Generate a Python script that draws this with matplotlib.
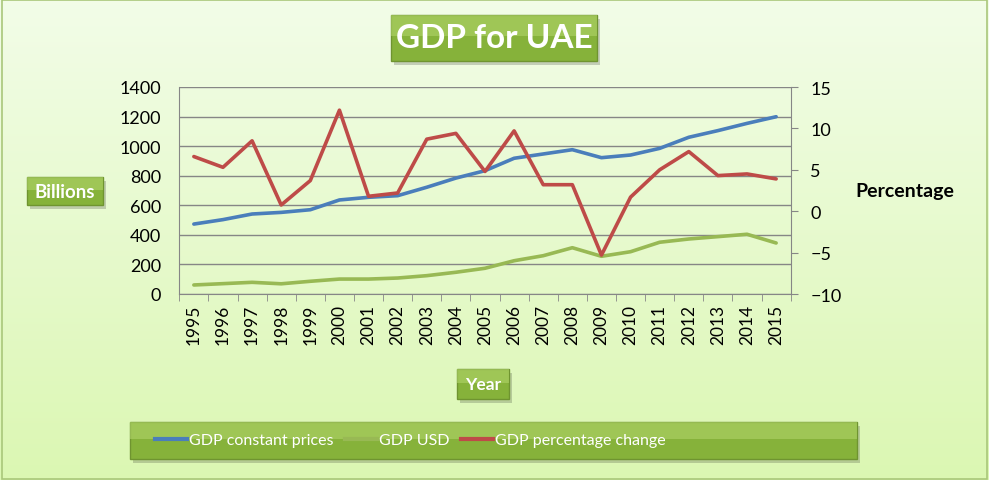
import numpy as np
import matplotlib.pyplot as plt
from matplotlib.patches import FancyBboxPatch, Rectangle
from matplotlib.lines import Line2D

plt.rcParams['font.family'] = ['Lato', 'DejaVu Sans']

years = [str(y) for y in range(1995, 2016)]
gdp_constant = [473, 503, 541, 552, 570, 636, 654, 665, 722, 784, 834,
                918, 947, 976, 922, 940, 985, 1060, 1105, 1154, 1199]
gdp_usd = [61, 70, 79, 69, 86, 101, 101, 108, 124, 147, 174,
           225, 259, 313, 255, 286, 350, 372, 388, 404, 345]
gdp_pct = [6.6, 5.3, 8.5, 0.75, 3.7, 12.2, 1.8, 2.2, 8.7, 9.4, 4.8,
           9.7, 3.2, 3.2, -5.3, 1.7, 5.0, 7.2, 4.3, 4.5, 3.9]

BLUE = '#4a7ebb'
RED = '#be4b48'
GREEN = '#98b954'
GRID = '#868686'

W, H = 989, 481
fig = plt.figure(figsize=(W / 100, H / 100), dpi=100)

# fondo con degradado
bg = fig.add_axes([0, 0, 1, 1], zorder=-10)
grad = np.linspace(0, 1, 256).reshape(-1, 1)
c_top = np.array([0.95, 0.99, 0.91])
c_bot = np.array([0.86, 0.97, 0.70])
img = c_top + (c_bot - c_top) * grad[:, :, None]
bg.imshow(np.repeat(img, 2, axis=1), aspect='auto', extent=[0, 1, 0, 1], origin='upper')
bg.add_patch(Rectangle((0.002, 0.003), 0.996, 0.994, fill=False,
                       edgecolor='#a9c77a', lw=1.2))
bg.set_xlim(0, 1)
bg.set_ylim(0, 1)
bg.axis('off')


def px_box(x0, y0, x1, y1):
    return x0 / W, 1 - y1 / H, (x1 - x0) / W, (y1 - y0) / H


def green_box(x0, y0, x1, y1, text=None, size=12):
    l, b, w, h = px_box(x0, y0, x1, y1)
    shadow = FancyBboxPatch((l + 3 / W, b - 4 / H), w, h, boxstyle='square,pad=0',
                            transform=fig.transFigure, facecolor='#000000',
                            alpha=0.18, edgecolor='none', zorder=1)
    fig.patches.append(shadow)
    box = FancyBboxPatch((l, b), w, h, boxstyle='square,pad=0',
                         transform=fig.transFigure, facecolor='#86b23a',
                         edgecolor='#6f9430', lw=1.0, zorder=2)
    fig.patches.append(box)
    top = FancyBboxPatch((l, b + h * 0.55), w, h * 0.45, boxstyle='square,pad=0',
                         transform=fig.transFigure, facecolor='#b0d46a',
                         alpha=0.6, edgecolor='none', zorder=2)
    fig.patches.append(top)
    if text:
        fig.text(l + w / 2, b + h / 2, text, ha='center', va='center',
                 color='white', fontsize=size, fontweight='bold', zorder=3)


ax = fig.add_axes(px_box(179.3, 88, 790.7, 295))
ax.set_facecolor('none')
x = np.arange(len(years))
ax.plot(x, gdp_constant, color=BLUE, lw=2.6, solid_capstyle='round', zorder=3)
ax.plot(x, gdp_usd, color=GREEN, lw=2.6, solid_capstyle='round', zorder=3)
ax.set_ylim(0, 1400)
ax.set_yticks(range(0, 1401, 200))
ax.set_xlim(-0.5, len(years) - 0.5)
ax.set_xticks(x)
ax.set_xticklabels(years, rotation=90)
ax.set_xticks(np.arange(-0.5, len(years)), minor=True)
ax.tick_params(axis='x', which='major', length=0, labelsize=12.5, pad=7)
ax.tick_params(axis='x', which='minor', length=5, color=GRID, direction='out')
ax.tick_params(axis='y', length=0, labelsize=13, pad=13)
ax.grid(axis='y', color=GRID, lw=1)
ax.set_axisbelow(True)
for s in ['top', 'right']:
    ax.spines[s].set_visible(False)
for s in ['left', 'bottom']:
    ax.spines[s].set_color(GRID)

ax2 = ax.twinx()
ax2.plot(x, gdp_pct, color=RED, lw=2.6, solid_capstyle='round', zorder=3)
ax2.set_ylim(-10, 15)
ax2.set_yticks(range(-10, 16, 5))
ax2.tick_params(axis='y', length=5, color=GRID, direction='out', labelsize=13, pad=9)
for s in ['top', 'left', 'bottom']:
    ax2.spines[s].set_visible(False)
ax2.spines['right'].set_color(GRID)

green_box(391, 16, 597, 62, 'GDP for UAE', 24)
green_box(27, 178, 103, 206, 'Billions', 13.5)
green_box(457, 370, 509, 400, 'Year', 12.5)
green_box(130, 423, 857, 460)

fig.text(905 / W, 1 - 192 / H, 'Percentage', ha='center', va='center',
         fontsize=14, fontweight='bold', color='black')

handles = [Line2D([], [], color=BLUE, lw=3),
           Line2D([], [], color=GREEN, lw=3),
           Line2D([], [], color=RED, lw=3)]
labels = ['GDP constant prices', 'GDP USD', 'GDP percentage change']
leg = fig.legend(handles, labels, loc='center left', ncol=3, frameon=False,
                 bbox_to_anchor=(155 / W, 1 - 441 / H), fontsize=11.5,
                 handlelength=2.0, handletextpad=0.15, columnspacing=0.7,
                 borderpad=0, borderaxespad=0)
for t in leg.get_texts():
    t.set_color('white')
leg.set_zorder(5)

fig.savefig('out.png', dpi=100)
